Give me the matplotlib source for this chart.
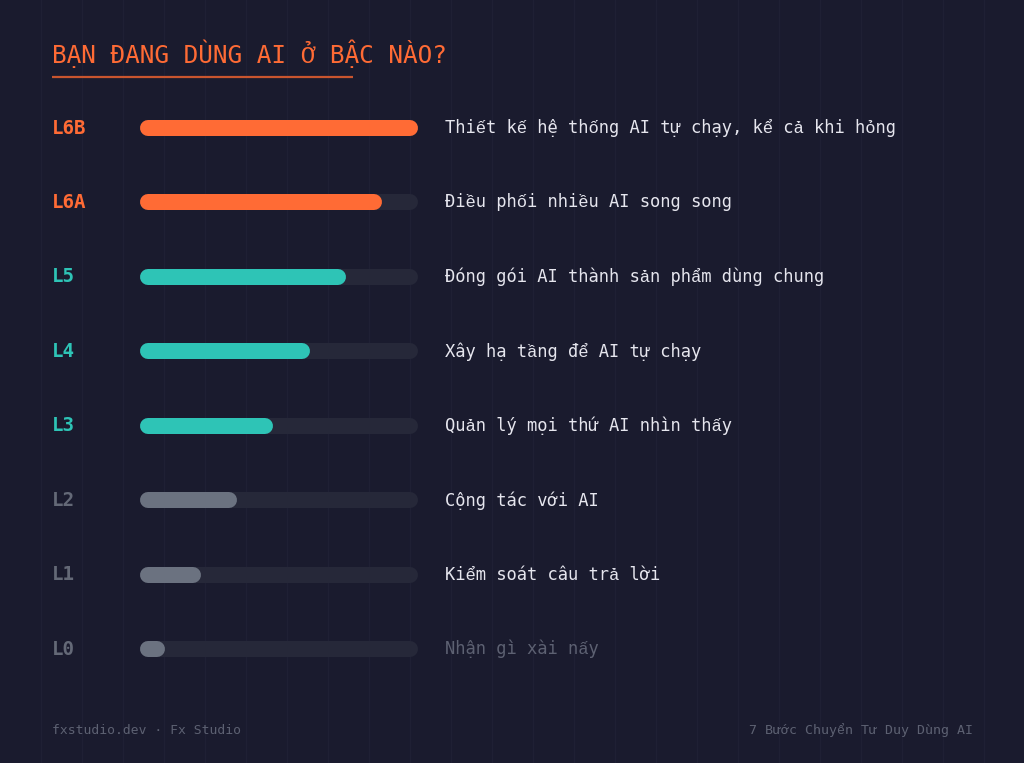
import matplotlib
matplotlib.use("Agg")
import matplotlib.pyplot as plt

# ---- data ----
levels = ["L6B", "L6A", "L5", "L4", "L3", "L2", "L1", "L0"]
values = [100, 87, 74, 61, 48, 35, 22, 9]
descriptions = [
    "Thiết kế hệ thống AI tự chạy, kể cả khi hỏng",
    "Điều phối nhiều AI song song",
    "Đóng gói AI thành sản phẩm dùng chung",
    "Xây hạ tầng để AI tự chạy",
    "Quản lý mọi thứ AI nhìn thấy",
    "Cộng tác với AI",
    "Kiểm soát câu trả lời",
    "Nhận gì xài nấy",
]
groups = ["orange", "orange", "teal", "teal", "teal", "gray", "gray", "gray"]
title = "BẠN ĐANG DÙNG AI Ở BẬC NÀO?"
footer_left = "fxstudio.dev · Fx Studio"
footer_right = "7 Bước Chuyển Tư Duy Dùng AI"

# ---- style ----
BG = "#1a1b2e"
TRACK = "#262839"
GRID = "#1f2034"
COL = {"orange": "#ff6b35", "teal": "#2ec4b6", "gray": "#6b7280"}
LABEL_COL = {"orange": "#ff6b35", "teal": "#2ec4b6", "gray": "#646977"}
DESC_COL = "#e6e6ee"
DESC_DIM = "#5d6172"
FONT = ["DejaVu Sans Mono", "Liberation Mono", "Noto Sans"]

W, H = 1024, 763
fig = plt.figure(figsize=(W / 100, H / 100), dpi=100, facecolor=BG)
ax = fig.add_axes([0, 0, 1, 1])
ax.set_xlim(0, W)
ax.set_ylim(H, 0)
ax.axis("off")
ax.set_facecolor(BG)

# faint vertical grid
for gx in range(41, W, 41):
    ax.axvline(gx, color=GRID, lw=1, zorder=0)

# title
ax.text(52, 54, title, color="#ff6b35", fontsize=17.6, family=FONT,
        va="center", ha="left")
ax.plot([52, 353], [77, 77], color="#c9552e", lw=1.6, solid_capstyle="butt")

# bars
track_x0, track_w = 140, 278
row0, row_step = 128, 74.45
bar_h_px = 16
lw_pt = bar_h_px * 72 / 100
r = bar_h_px / 2
for i, (lev, v, desc, g) in enumerate(zip(levels, values, descriptions, groups)):
    y = row0 + i * row_step
    ax.plot([track_x0 + r, track_x0 + track_w - r], [y, y], color=TRACK,
            lw=lw_pt, solid_capstyle="round", zorder=2)
    xe = track_x0 + track_w * v / 100
    ax.plot([track_x0 + r, max(xe - r, track_x0 + r)], [y, y], color=COL[g],
            lw=lw_pt, solid_capstyle="round", zorder=3)
    ax.text(52, y, lev, color=LABEL_COL[g], fontsize=13.8, fontweight="bold",
            family=FONT, va="center", ha="left")
    ax.text(445, y, desc, color=DESC_DIM if lev == "L0" else DESC_COL,
            fontsize=12.35, family=FONT, va="center", ha="left")

# footer
ax.text(52, 730, footer_left, color="#5d6172", fontsize=9.4, family=FONT,
        va="center", ha="left")
ax.text(973, 730, footer_right, color="#5d6172", fontsize=9.5, family=FONT,
        va="center", ha="right")

fig.savefig("out.png", dpi=100, facecolor=BG)
